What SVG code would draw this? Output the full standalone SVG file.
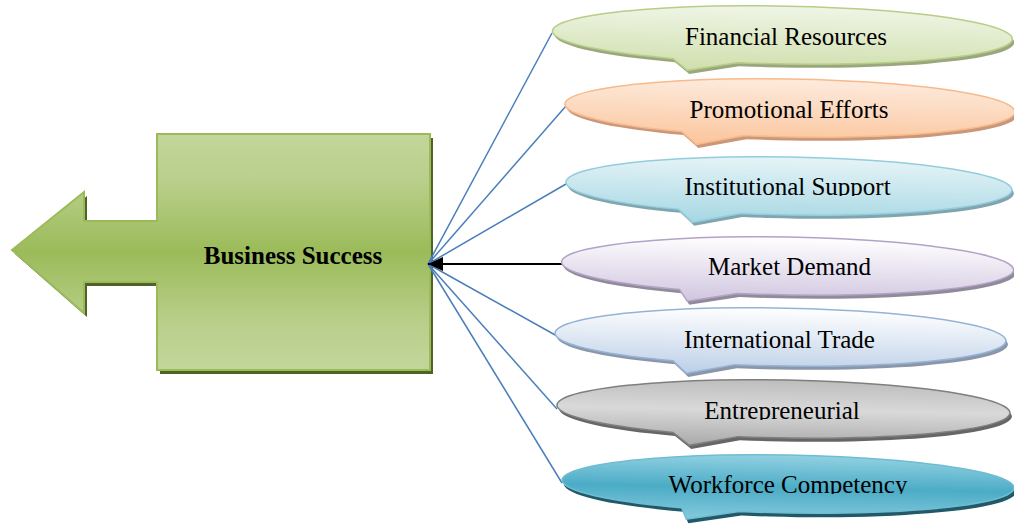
<svg xmlns="http://www.w3.org/2000/svg" width="1014" height="524" viewBox="0 0 1014 524">
  <style>
    .lbl { font-family: "Liberation Serif", "Times New Roman", serif; font-size: 25px; fill: #000; text-anchor: middle; }
    .bold { font-weight: bold; }
    .link { fill: none; stroke: #4a7ebb; stroke-width: 1.5; }
    .main-link { fill: none; stroke: #000; stroke-width: 2; }
    .bubble { stroke-width: 1.5; }
  </style>
  <defs>
    <marker id="arrowHead" viewBox="0 0 15 14" refX="15" refY="7" markerWidth="15" markerHeight="14" markerUnits="userSpaceOnUse" orient="auto">
      <path d="M0,0 L15,7 L0,14 Z" fill="#000"/>
    </marker>
    <linearGradient id="gBox" x1="0" y1="134" x2="0" y2="370" gradientUnits="userSpaceOnUse">
      <stop offset="0" stop-color="#c3d69b"/>
      <stop offset="0.2" stop-color="#b9cf8b"/>
      <stop offset="0.5" stop-color="#9bbb59"/>
      <stop offset="0.8" stop-color="#b9cf8b"/>
      <stop offset="1" stop-color="#c3d69b"/>
    </linearGradient>
    <linearGradient id="gGreen" x1="0" y1="0" x2="0" y2="1">
      <stop offset="0" stop-color="#f0f5e6"/>
      <stop offset="1" stop-color="#cfdfad"/>
    </linearGradient>
    <linearGradient id="gOrange" x1="0" y1="0" x2="0" y2="1">
      <stop offset="0" stop-color="#fdebdd"/>
      <stop offset="1" stop-color="#fbc59c"/>
    </linearGradient>
    <linearGradient id="gAqua" x1="0" y1="0" x2="0" y2="1">
      <stop offset="0" stop-color="#e6f4f7"/>
      <stop offset="1" stop-color="#a6d7e3"/>
    </linearGradient>
    <linearGradient id="gLilac" x1="0" y1="0" x2="0" y2="1">
      <stop offset="0" stop-color="#ffffff"/>
      <stop offset="1" stop-color="#d0c5df"/>
    </linearGradient>
    <linearGradient id="gSky" x1="0" y1="0" x2="0" y2="1">
      <stop offset="0" stop-color="#ffffff"/>
      <stop offset="1" stop-color="#bccfe7"/>
    </linearGradient>
    <linearGradient id="gGray" x1="0" y1="0" x2="0" y2="1">
      <stop offset="0" stop-color="#bdbdbd"/>
      <stop offset="0.45" stop-color="#d9d9d9"/>
      <stop offset="1" stop-color="#a9a9a9"/>
    </linearGradient>
    <linearGradient id="gTeal" x1="0" y1="0" x2="0" y2="1">
      <stop offset="0" stop-color="#93d1e2"/>
      <stop offset="0.5" stop-color="#4bacc6"/>
      <stop offset="1" stop-color="#86cadd"/>
    </linearGradient>
    <clipPath id="clipInst"><rect x="600" y="150" width="400" height="46"/></clipPath>
    <clipPath id="clipEntr"><rect x="600" y="380" width="400" height="40"/></clipPath>
    <clipPath id="clipWork"><rect x="600" y="455" width="400" height="39"/></clipPath>
  </defs>

  <rect width="1014" height="524" fill="#fff"/>

  <!-- central block: rectangle with a left-pointing arrow -->
  <g id="business-success">
    <path d="M157,134 H430 V370 H157 V282 H84 V313 L12,250 L84,192 V221 H157 Z" fill="#4f6228" transform="translate(3,4)"/>
    <path d="M157,134 H430 V370 H157 V282 H84 V313 L12,250 L84,192 V221 H157 Z" fill="url(#gBox)" stroke="#9bbb59" stroke-width="2"/>
    <text class="lbl bold" x="293" y="264">Business Success</text>
  </g>

  <!-- links from the factors to the central block -->
  <g id="connectors">
    <line class="link" x1="428" y1="264" x2="552" y2="33"/>
    <line class="link" x1="428" y1="264" x2="566" y2="106"/>
    <line class="link" x1="428" y1="264" x2="566" y2="184"/>
    <line class="link" x1="428" y1="264" x2="557" y2="336"/>
    <line class="link" x1="428" y1="264" x2="557" y2="409"/>
    <line class="link" x1="428" y1="264" x2="562" y2="483"/>
    <line class="main-link" x1="562" y1="264" x2="428" y2="264" marker-end="url(#arrowHead)"/>
  </g>

  <!-- oval callouts, each with a small pointer at the bottom -->
  <g id="financial-resources" transform="translate(782.5,35) rotate(1)">
    <path d="M-109,25.54 A230 29 0 1 1 -45,28.44 L-94.5,37 Z" fill="#9aa77c" transform="translate(2,3.5)"/>
    <path class="bubble" d="M-109,25.54 A230 29 0 1 1 -45,28.44 L-94.5,37 Z" fill="url(#gGreen)" stroke="#b7cd88"/>
  </g>
  <text class="lbl" x="786" y="45">Financial Resources</text>

  <g id="promotional-efforts" transform="translate(790,108) rotate(1)">
    <path d="M-108,25.44 A225 29 0 1 1 -45,28.41 L-93,38 Z" fill="#c9977a" transform="translate(2,3.5)"/>
    <path class="bubble" d="M-108,25.44 A225 29 0 1 1 -45,28.41 L-93,38 Z" fill="url(#gOrange)" stroke="#f9b98a"/>
  </g>
  <text class="lbl" x="789" y="118">Promotional Efforts</text>

  <g id="institutional-support" transform="translate(789,186) rotate(1)">
    <path d="M-110,25.23 A223 29 0 1 1 -48,28.32 L-96,38 Z" fill="#80a5ae" transform="translate(2,3.5)"/>
    <path class="bubble" d="M-110,25.23 A223 29 0 1 1 -48,28.32 L-96,38 Z" fill="url(#gAqua)" stroke="#93cddd"/>
  </g>
  <text class="lbl" x="787.5" y="195" clip-path="url(#clipInst)">Institutional Support</text>

  <g id="market-demand" transform="translate(788,266) rotate(1)">
    <path d="M-108,25.48 A226 29 0 1 1 -50,28.27 L-100,37 Z" fill="#8f8b98" transform="translate(2,3.5)"/>
    <path class="bubble" d="M-108,25.48 A226 29 0 1 1 -50,28.27 L-100,37 Z" fill="url(#gLilac)" stroke="#b3a2c7"/>
  </g>
  <text class="lbl" x="789.5" y="275">Market Demand</text>

  <g id="international-trade" transform="translate(780.5,337) rotate(1)">
    <path d="M-107,25.53 A225.5 29 0 1 1 -45,28.42 L-93.5,38 Z" fill="#8b97a8" transform="translate(2,3.5)"/>
    <path class="bubble" d="M-107,25.53 A225.5 29 0 1 1 -45,28.42 L-93.5,38 Z" fill="url(#gSky)" stroke="#95b3d7"/>
  </g>
  <text class="lbl" x="779.5" y="348">International Trade</text>

  <g id="entrepreneurial" transform="translate(783.5,409) rotate(1)">
    <path d="M-110,25.35 A226.5 29 0 1 1 -45,28.42 L-93.5,38 Z" fill="#666" transform="translate(2,3.5)"/>
    <path class="bubble" d="M-110,25.35 A226.5 29 0 1 1 -45,28.42 L-93.5,38 Z" fill="url(#gGray)" stroke="#7f7f7f"/>
  </g>
  <text class="lbl" x="782" y="419" clip-path="url(#clipEntr)">Entrepreneurial</text>

  <g id="workforce-competency" transform="translate(788,484) rotate(1)">
    <path d="M-106,25.61 A226 29 0 1 1 -48,28.34 L-101,37 Z" fill="#215968" transform="translate(2,4)"/>
    <path class="bubble" d="M-106,25.61 A226 29 0 1 1 -48,28.34 L-101,37 Z" fill="url(#gTeal)" stroke="#6fbdd2"/>
  </g>
  <text class="lbl" x="788" y="493" clip-path="url(#clipWork)">Workforce Competency</text>
</svg>
